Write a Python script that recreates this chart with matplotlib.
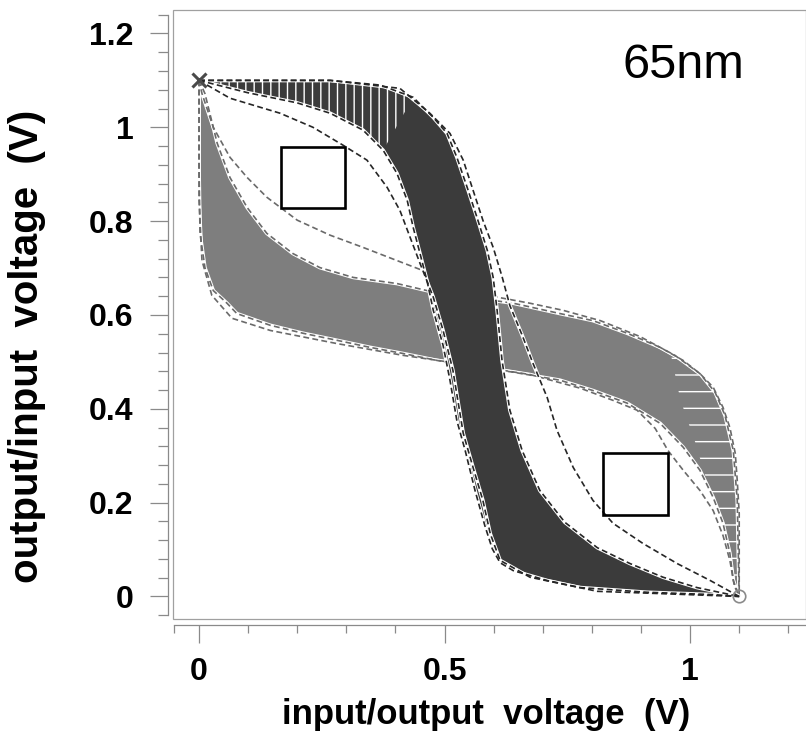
"""
Butterfly curves (SRAM cell, 65nm): Monte Carlo bands of both inverter VTCs.
Saved to out.png
"""

import numpy as np
import matplotlib
matplotlib.use('Agg')
import matplotlib.pyplot as plt
from matplotlib.patches import Rectangle

# ── Data ──────────────────────────────────────────────────────────────────────

# dark family: output vs input, outer (top/right) and inner (left/bottom) edge
DARK_OUTER_X = [0.0, 0.267, 0.369, 0.436, 0.477, 0.505, 0.525, 0.546, 0.566, 0.587, 0.599,
                0.607, 0.617, 0.633, 0.658, 0.694, 0.745, 0.811, 0.878, 0.945, 1.014, 1.1]
DARK_OUTER_Y = [1.1, 1.1, 1.09, 1.064, 1.021, 0.987, 0.936, 0.872, 0.808, 0.738, 0.680,
                0.610, 0.503, 0.397, 0.311, 0.226, 0.158, 0.104, 0.070, 0.041, 0.019, 0.0]
DARK_INNER_X = [0.0, 0.098, 0.200, 0.267, 0.334, 0.375, 0.403, 0.424, 0.436, 0.450, 0.464,
                0.477, 0.497, 0.511, 0.525, 0.542, 0.562, 0.582, 0.597, 0.613, 0.640, 0.709,
                0.776, 0.912, 1.047, 1.1]
DARK_INNER_Y = [1.1, 1.074, 1.052, 1.030, 0.994, 0.951, 0.902, 0.844, 0.787, 0.731, 0.674,
                0.610, 0.535, 0.461, 0.375, 0.311, 0.226, 0.151, 0.102, 0.072, 0.055, 0.034,
                0.019, 0.009, 0.004, 0.0]
# striped part of the dark band (top left)
DARK_STRIPE_X = [0.0, 0.267, 0.369, 0.436, 0.375, 0.334, 0.267, 0.200, 0.098, 0.0]
DARK_STRIPE_Y = [1.1, 1.1, 1.09, 1.064, 0.951, 0.994, 1.030, 1.052, 1.074, 1.1]
# single dark curves lying apart from the band
DARK_LEFT_X = [0.0, 0.063, 0.165, 0.232, 0.293, 0.342, 0.383, 0.409, 0.430, 0.450, 0.477,
               0.497, 0.517, 0.527, 0.538, 0.558, 0.578, 0.593, 0.613, 0.674, 0.811, 1.1]
DARK_LEFT_Y = [1.1, 1.062, 1.030, 1.0, 0.962, 0.930, 0.872, 0.823, 0.765, 0.710, 0.638,
               0.567, 0.482, 0.418, 0.348, 0.275, 0.205, 0.134, 0.077, 0.041, 0.011, 0.0]
DARK_RIGHT_X = [0.0, 0.267, 0.409, 0.470, 0.511, 0.538, 0.558, 0.578, 0.599, 0.617, 0.633,
                0.658, 0.680, 0.709, 0.729, 0.762, 0.802, 0.843, 0.904, 0.974, 1.041, 1.1]
DARK_RIGHT_Y = [1.1, 1.1, 1.083, 1.030, 0.987, 0.930, 0.866, 0.802, 0.744, 0.682, 0.620,
                0.557, 0.497, 0.424, 0.354, 0.275, 0.205, 0.156, 0.113, 0.070, 0.034, 0.0]

# light family: mirrored VTC, upper (top/right) and lower (left/bottom) edge
LIGHT_UPPER_X = [0.0, 0.012, 0.037, 0.063, 0.098, 0.138, 0.191, 0.246, 0.314, 0.403, 0.464,
                 0.552, 0.640, 0.735, 0.802, 0.872, 0.939, 0.986, 1.020, 1.047, 1.067, 1.081,
                 1.092, 1.096, 1.1, 1.1, 1.1, 1.1]
LIGHT_UPPER_Y = [1.1, 1.072, 0.966, 0.893, 0.829, 0.774, 0.731, 0.701, 0.680, 0.667, 0.652,
                 0.638, 0.625, 0.603, 0.588, 0.561, 0.531, 0.503, 0.475, 0.446, 0.403, 0.360,
                 0.305, 0.247, 0.177, 0.104, 0.034, 0.0]
LIGHT_LOWER_X = [0.0, 0.0, 0.002, 0.012, 0.029, 0.057, 0.077, 0.145, 0.212, 0.281, 0.348,
                 0.415, 0.485, 0.562, 0.640, 0.735, 0.802, 0.872, 0.939, 0.986, 1.020, 1.047,
                 1.067, 1.081, 1.088, 1.1]
LIGHT_LOWER_Y = [1.1, 0.915, 0.774, 0.701, 0.652, 0.625, 0.603, 0.578, 0.561, 0.546, 0.531,
                 0.518, 0.503, 0.490, 0.478, 0.461, 0.439, 0.412, 0.369, 0.318, 0.269, 0.211,
                 0.156, 0.092, 0.034, 0.0]
# striped part of the light band (right side)
LIGHT_STRIPE_X = [0.96, 1.020, 1.047, 1.067, 1.081, 1.092, 1.096, 1.1, 1.1, 1.088, 1.081,
                  1.067, 1.047, 1.03, 1.01, 0.98, 0.96]
LIGHT_STRIPE_Y = [0.52, 0.475, 0.446, 0.403, 0.360, 0.305, 0.247, 0.177, 0.0, 0.034, 0.092,
                  0.156, 0.211, 0.26, 0.33, 0.42, 0.52]
# single light curves lying apart from the band
LIGHT_TOP_X = [0.0, 0.006, 0.029, 0.063, 0.098, 0.138, 0.200, 0.267, 0.334, 0.403, 0.470,
               0.538, 0.607, 0.674, 0.741, 0.817, 0.898, 0.969, 1.020, 1.051, 1.071, 1.088,
               1.096, 1.098, 1.1]
LIGHT_TOP_Y = [1.1, 1.072, 1.0, 0.936, 0.893, 0.851, 0.802, 0.770, 0.744, 0.716, 0.689,
               0.659, 0.638, 0.625, 0.610, 0.588, 0.554, 0.514, 0.475, 0.435, 0.386, 0.311,
               0.205, 0.098, 0.0]
LIGHT_BOTTOM_X = [0.0, 0.0, 0.006, 0.026, 0.067, 0.145, 0.281, 0.415, 0.552, 0.674, 0.776,
                  0.843, 0.892, 0.929, 0.955, 0.986, 1.020, 1.047, 1.067, 1.081, 1.090, 1.1]
LIGHT_BOTTOM_Y = [1.1, 0.844, 0.716, 0.642, 0.593, 0.567, 0.539, 0.514, 0.493, 0.473, 0.444,
                  0.418, 0.397, 0.358, 0.311, 0.269, 0.226, 0.183, 0.130, 0.077, 0.023, 0.0]

# noise margin squares: lower-left corner and side
SQUARES_X = [0.167, 0.823]
SQUARES_Y = [0.827, 0.173]
SQUARE_SIDE = [0.131, 0.132]

VDD = 1.1
X_TICKS = [0, 0.5, 1]
X_TICK_LABELS = ['0', '0.5', '1']
Y_TICKS = [0, 0.2, 0.4, 0.6, 0.8, 1.0, 1.2]
Y_TICK_LABELS = ['0', '0.2', '0.4', '0.6', '0.8', '1', '1.2']

# ── Style ─────────────────────────────────────────────────────────────────────

DARK = '#3b3b3b'
DARK_LINE = '#262626'
LIGHT = '#7e7e7e'
LIGHT_LINE = '#6a6a6a'
AXIS_GRAY = '#8a8a8a'
FONT = 'Liberation Sans'
DASH = (0, (3.5, 2))

plt.rcParams['hatch.color'] = 'white'
plt.rcParams['hatch.linewidth'] = 1.0


def dashed(ax, x, y, color, lw=1.2, under=2.6, z=3):
    # white halo under each dashed curve, like the gaps between sweeps
    ax.plot(x, y, color='white', linewidth=under, solid_capstyle='butt', zorder=z)
    ax.plot(x, y, color=color, linewidth=lw, linestyle=DASH, zorder=z + 0.1)


fig = plt.figure(figsize=(8.06, 7.38), dpi=100)
ax = fig.add_axes([173 / 806, 1 - 619 / 738, 633 / 806, 609 / 738])
ax.set_xlim(-0.053, 1.236)
ax.set_ylim(-0.048, 1.25)

# ── Light band ──
ax.fill(LIGHT_UPPER_X + LIGHT_LOWER_X[::-1], LIGHT_UPPER_Y + LIGHT_LOWER_Y[::-1],
        color=LIGHT, linewidth=0, zorder=1)
ax.fill(LIGHT_STRIPE_X, LIGHT_STRIPE_Y, facecolor=LIGHT, edgecolor='white',
        hatch='-', linewidth=0, zorder=1.5)
dashed(ax, LIGHT_UPPER_X, LIGHT_UPPER_Y, LIGHT_LINE, z=2)
dashed(ax, LIGHT_LOWER_X, LIGHT_LOWER_Y, LIGHT_LINE, z=2)
dashed(ax, LIGHT_TOP_X, LIGHT_TOP_Y, LIGHT_LINE, z=2)
dashed(ax, LIGHT_BOTTOM_X, LIGHT_BOTTOM_Y, LIGHT_LINE, z=2)

# ── Dark band ──
ax.fill(DARK_OUTER_X + DARK_INNER_X[::-1], DARK_OUTER_Y + DARK_INNER_Y[::-1],
        color=DARK, linewidth=0, zorder=4)
ax.fill(DARK_STRIPE_X, DARK_STRIPE_Y, facecolor=DARK, edgecolor='white',
        hatch='||', linewidth=0, zorder=4.5)
dashed(ax, DARK_INNER_X, DARK_INNER_Y, DARK_LINE, z=5)
dashed(ax, DARK_OUTER_X, DARK_OUTER_Y, DARK_LINE, z=5)
dashed(ax, DARK_LEFT_X, DARK_LEFT_Y, DARK_LINE, z=5)
dashed(ax, DARK_RIGHT_X, DARK_RIGHT_Y, DARK_LINE, z=5)

# ── Squares and end markers ──
for sx, sy, side in zip(SQUARES_X, SQUARES_Y, SQUARE_SIDE):
    ax.add_patch(Rectangle((sx, sy), side, side, fill=False, edgecolor='black',
                           linewidth=1.9, zorder=7))
ax.plot([0], [VDD], marker='x', markersize=10, mew=2.2, color='#4a4a4a', zorder=8)
ax.plot([VDD], [0], marker='o', markersize=9, mfc='none', mew=1.2, color='#8a8a8a', zorder=8)

ax.text(0.986, 1.132, '65nm', ha='center', va='center', fontsize=35, family=FONT)

# ── Axes ──
frame = Rectangle((0, 0), 1, 1, transform=ax.transAxes, fill=False,
                  edgecolor='#a0a0a0', linewidth=0.9, clip_on=False, zorder=0)
ax.add_patch(frame)
for side in ('top', 'right'):
    ax.spines[side].set_visible(False)
ax.spines['left'].set_position(('outward', 3.6))
ax.spines['bottom'].set_position(('outward', 4.3))
ax.spines['left'].set_bounds(-0.04, 1.24)
ax.spines['bottom'].set_bounds(-0.05, 1.236)
for side in ('left', 'bottom'):
    ax.spines[side].set_color(AXIS_GRAY)
    ax.spines[side].set_linewidth(0.9)

ax.set_xticks(X_TICKS)
ax.set_xticklabels(X_TICK_LABELS)
ax.set_xticks([-0.05, 0.1, 0.2, 0.3, 0.4, 0.6, 0.7, 0.8, 0.9, 1.1, 1.2], minor=True)
ax.set_yticks(Y_TICKS)
ax.set_yticklabels(Y_TICK_LABELS)
ax.set_yticks([v for v in np.round(np.arange(-0.04, 1.25, 0.04), 2)
               if not np.isclose(v % 0.2, 0) and not np.isclose(v % 0.2, 0.2)], minor=True)

ax.tick_params(axis='both', which='both', direction='out', color=AXIS_GRAY, width=0.9)
ax.tick_params(axis='y', which='major', length=13, pad=12)
ax.tick_params(axis='y', which='minor', length=7)
ax.tick_params(axis='x', which='major', length=13, pad=10)
ax.tick_params(axis='x', which='minor', length=6)
for lab in ax.get_xticklabels() + ax.get_yticklabels():
    lab.set_fontfamily(FONT)
    lab.set_fontweight('bold')
    lab.set_fontsize(23)

ax.set_xlabel('input/output  voltage  (V)', fontsize=25, fontweight='bold', family=FONT)
ax.set_ylabel('output/input  voltage  (V)', fontsize=29, fontweight='bold', family=FONT)
ax.xaxis.set_label_coords(0.4945, -0.157)
ax.yaxis.set_label_coords(-0.2307, 0.447)
ax.xaxis.label.set_verticalalignment('center')
ax.yaxis.label.set_verticalalignment('center')

fig.savefig('out.png', dpi=100, facecolor='white')
